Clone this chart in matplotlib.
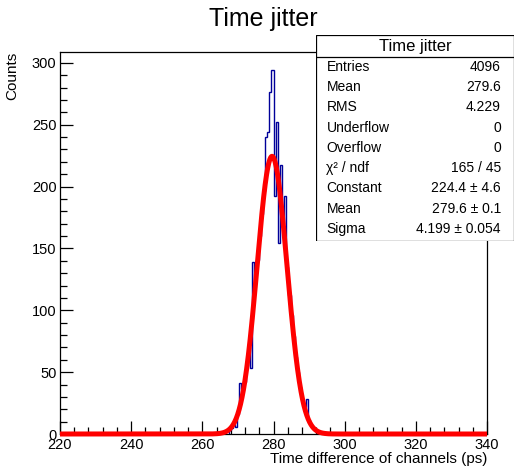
import numpy as np
import matplotlib
matplotlib.use("Agg")
import matplotlib.pyplot as plt
from matplotlib.patches import Rectangle
from matplotlib.ticker import MultipleLocator

plt.rcParams['font.family'] = ['Liberation Sans', 'DejaVu Sans']

# histogram contents (0.6 ps bins, first bin starts at 267.4 ps)
bin_start = 267.4
bin_width = 0.6
counts = [3, 5, 7, 6, 16, 41, 36, 42, 55, 70,
          53, 139, 122, 141, 160, 178, 196, 240, 244, 276,
          294, 192, 252, 154, 217, 170, 192, 135, 112, 96,
          79, 62, 50, 38, 28, 22, 28, 11, 7, 5,
          3, 2]

# gaussian fit result
fit_const = 224.4
fit_mean = 279.6
fit_sigma = 4.199

stat_names = ["Entries", "Mean", "RMS", "Underflow", "Overflow", "χ² / ndf",
              "Constant", "Mean", "Sigma"]
stat_values = ["4096", "279.6", "4.229", "0", "0", "165 / 45",
               "224.4 ± 4.6", "279.6 ± 0.1", "4.199 ± 0.054"]

W, H = 526, 476
fig = plt.figure(figsize=(W / 100, H / 100), dpi=100)
ax = fig.add_axes([60 / W, 1 - 434 / H, 427 / W, 382 / H])

edges = bin_start + bin_width * np.arange(len(counts) + 1)
ax.stairs(counts, edges, color='#000099', lw=1.0, zorder=2)

xf = np.linspace(220, 340, 1200)
yf = fit_const * np.exp(-0.5 * ((xf - fit_mean) / fit_sigma) ** 2)
ax.plot(xf, yf, color='#ff0000', lw=3.6, zorder=3, solid_capstyle='butt', clip_on=False)

ax.set_xlim(220, 340)
ax.set_ylim(0, 1.05 * max(counts))
ax.xaxis.set_major_locator(MultipleLocator(20))
ax.xaxis.set_minor_locator(MultipleLocator(4))
ax.yaxis.set_major_locator(MultipleLocator(50))
ax.yaxis.set_minor_locator(MultipleLocator(10))
ax.tick_params(which='both', direction='in', top=False, right=False, labelsize=10.5, width=0.9)
ax.tick_params(which='major', length=9.5)
ax.tick_params(which='minor', length=5)
ax.tick_params(axis='x', pad=3)
ax.tick_params(axis='y', pad=2.5)
for s in ax.spines.values():
    s.set_linewidth(0.9)

fig.text(263 / W, 1 - 19 / H, "Time jitter", ha='center', va='center', fontsize=18)
fig.text(487 / W, 1 - 459 / H, "Time difference of channels (ps)", ha='right', va='center', fontsize=11)
fig.text(12 / W, 1 - 52 / H, "Counts", rotation=90, ha='center', va='top', fontsize=11)

# stats box
bx = fig.add_axes([316 / W, 1 - 241 / H, 198 / W, 206 / H])
bx.set_xlim(0, 198)
bx.set_ylim(206, 0)
bx.axis('off')
bx.add_patch(Rectangle((0, 0), 198, 206, facecolor='white', edgecolor='black', lw=0.9))
bx.plot([0, 198], [21.7, 21.7], color='black', lw=0.9)
bx.text(99, 11, "Time jitter", ha='center', va='center', fontsize=12)
for i, (n, v) in enumerate(zip(stat_names, stat_values)):
    y = 31.7 + 20.3 * i
    bx.text(10.5, y, n, ha='left', va='center', fontsize=10)
    bx.text(185, y, v, ha='right', va='center', fontsize=10)

fig.savefig("out.png", dpi=100)
